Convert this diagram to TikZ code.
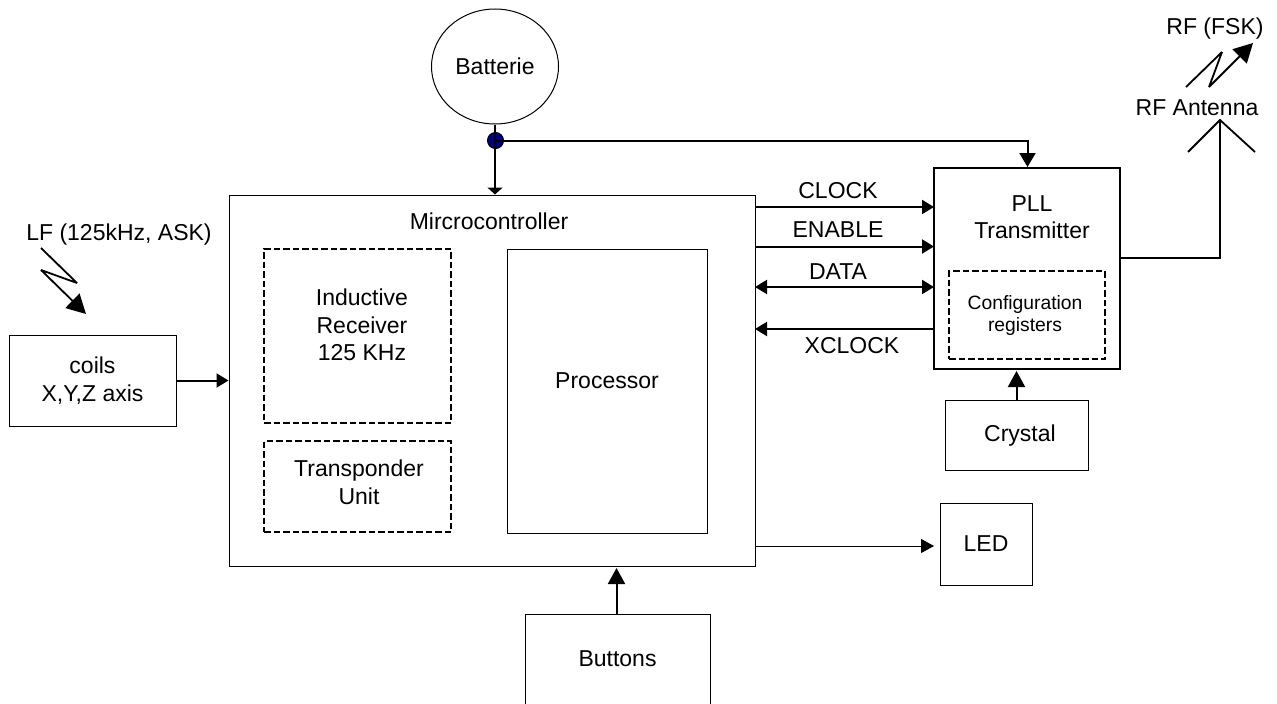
\documentclass[tikz,border=0pt]{standalone}
\usepackage{fontspec}
\setmainfont{Liberation Sans}
\usetikzlibrary{arrows.meta,shapes.geometric}
\definecolor{dotblue}{RGB}{0,0,128}
\tikzset{
  block/.style={draw,line width=1pt,inner sep=0pt,align=center},
  dashblock/.style={block,dashed,dash pattern=on 6.5pt off 3pt,line width=1.4pt},
  tag/.style={inner sep=0pt,align=center},
  sig/.style={line width=2pt,-{Triangle[length=12pt,width=14pt]}},
  both/.style={line width=2pt,{Triangle[length=12pt,width=14pt]}-{Triangle[length=12pt,width=14pt]}},
  bigsig/.style={line width=2pt,-{Triangle[length=16pt,width=17pt]}},
  wave/.style={line width=1.8pt,line join=bevel,-{Triangle[length=19pt,width=20pt]}}
}
\begin{document}
\begin{tikzpicture}[x=1pt,y=-1pt,font=\fontsize{23}{27.5}\selectfont]
  \useasboundingbox (0,0) rectangle (1277,704);
  \draw
    (495,66.5) node[block,ellipse,minimum width=127pt,minimum height=115pt] (batterie){Batterie}
    (92.5,380.5) node[block,minimum width=167pt,minimum height=91pt] (coils){coils\\X,Y,Z axis}
    (492,380.5) node[block,minimum width=526pt,minimum height=371pt] (micro){}
    (357.5,336) node[dashblock,minimum width=187pt,minimum height=174pt] (inductive){}
    (357.5,486.5) node[dashblock,minimum width=187pt,minimum height=91pt] (transponder){}
    (607,391) node[block,minimum width=200pt,minimum height=284pt] (processor){}
    (1027,268.5) node[block,line width=2.6pt,minimum width=186pt,minimum height=201pt] (pll){}
    (1027,315) node[dashblock,minimum width=156pt,minimum height=88pt] (config){}
    (1016.5,435) node[block,minimum width=143pt,minimum height=70pt] (crystal){}
    (986,544) node[block,minimum width=92pt,minimum height=82pt] (led){LED}
    (617.5,659) node[block,minimum width=185pt,minimum height=90pt] (buttons){Buttons}
    (495.5,140.5) node[circle,draw,fill=dotblue,line width=1pt,minimum size=16pt,inner sep=0pt] (junction){};
  \draw
    (489,221) node[tag] (microlabel){Mircrocontroller}
    (607,381) node[tag] (processorlabel){Processor}
    (362,325) node[tag] (inductivelabel){Inductive\\Receiver\\125 KHz}
    (359,482.5) node[tag] (transponderlabel){Transponder\\Unit}
    (1032,217) node[tag] (plllabel){PLL\\Transmitter}
    (1025,315.5) node[tag,font=\fontsize{19.3}{22.5}\selectfont] (configlabel){Configuration\\registers}
    (1020,436) node[tag] (crystallabel){Crystal}
    (119,235) node[tag] (lflabel){LF (125kHz, ASK)}
    (1215,29) node[tag] (rflabel){RF (FSK)}
    (1197,108) node[tag] (antennalabel){RF Antenna}
    (838,191) node[tag] (clocklabel){CLOCK}
    (838,230) node[tag] (enablelabel){ENABLE}
    (838,271.5) node[tag] (datalabel){DATA}
    (852,346) node[tag] (xclocklabel){XCLOCK};
  \coordinate (powerin) at (1027.5,167);
  \coordinate (powerbend) at (1027.5,140.5);
  \coordinate (clockout) at (755,207);
  \coordinate (clockin) at (934,207);
  \coordinate (enableout) at (755,246.5);
  \coordinate (enablein) at (934,246.5);
  \coordinate (dataout) at (755,287);
  \coordinate (datain) at (934,287);
  \coordinate (xclockin) at (755,329);
  \coordinate (xclockout) at (934,329);
  \coordinate (ledout) at (755,546);
  \coordinate (ledin) at (934,546);
  \coordinate (crystalout) at (1016.5,400);
  \coordinate (crystalin) at (1016.5,371);
  \coordinate (buttonsout) at (616.5,614);
  \coordinate (buttonsin) at (616.5,568);
  \coordinate (antennaout) at (1120,258);
  \coordinate (antennabend) at (1220,258);
  \coordinate (antennatop) at (1220,120);
  \coordinate (antennaleft) at (1188,152);
  \coordinate (antennaright) at (1255,152);
  \coordinate (lfa) at (41,248);
  \coordinate (lfb) at (77,283);
  \coordinate (lfc) at (41,270);
  \coordinate (lfd) at (86,314);
  \coordinate (rfa) at (1186,87);
  \coordinate (rfb) at (1222,52);
  \coordinate (rfc) at (1209,87);
  \coordinate (rfd) at (1253,43);
  \begin{scope}
    \draw[line width=1.8pt,-{Triangle[length=7pt,width=15pt]}] (batterie.south) to (micro.north -| batterie.south);
    \draw[line width=2pt,-{Triangle[length=14pt,width=16pt]}] (junction.center) to (powerbend) to (powerin);
    \draw[sig] (coils.east) to (micro.west |- coils.east);
    \draw[sig] (clockout) to (clockin);
    \draw[sig] (enableout) to (enablein);
    \draw[both] (dataout) to (datain);
    \draw[sig] (xclockout) to (xclockin);
    \draw[bigsig] (crystalout) to (crystalin);
    \draw[line width=1pt,-{Triangle[length=13pt,width=14pt]}] (ledout) to (ledin);
    \draw[bigsig] (buttonsout) to (buttonsin);
    \draw[line width=1.8pt] (antennaout) to (antennabend) to (antennatop);
    \draw[line width=1.8pt] (antennaleft) to (antennatop) to (antennaright);
    \draw[wave] (lfa) -- (lfb) -- (lfc) -- (lfd);
    \draw[wave] (rfa) -- (rfb) -- (rfc) -- (rfd);
  \end{scope}
\end{tikzpicture}
\end{document}
